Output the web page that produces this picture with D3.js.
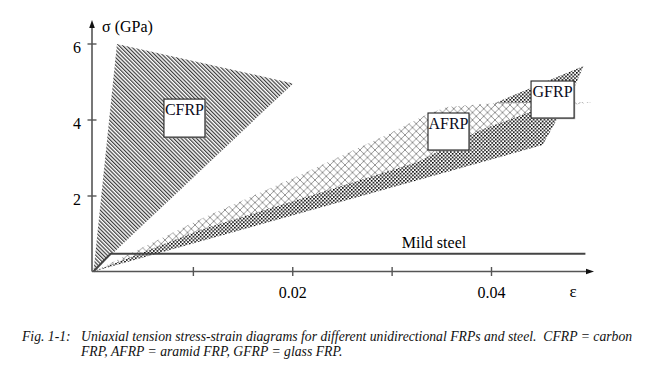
<!DOCTYPE html>
<html>
<head>
<meta charset="utf-8">
<script src="https://cdn.jsdelivr.net/npm/d3@7"></script>
<style>
  html, body { margin: 0; padding: 0; background: #fff; }
  svg { display: block; }
</style>
</head>
<body>
<svg id="chart" width="666" height="372"></svg>
<script>
// ---- data (strain ε, stress σ in GPa) ----
const cfrpRegion = [[0, 0], [0.00236, 5.99], [0.0201, 4.95]];
const gfrpRegion = [[0, 0], [0.0452, 3.33], [0.0466, 3.99], [0.0485, 4.91], [0.0493, 5.41]];
const afrpUpper = [[0, 0], [0.01076, 1.38], [0.02078, 2.54], [0.02984, 3.64], [0.03356, 4.14], [0.03557, 4.33], [0.0399, 4.42], [0.0503, 4.46]];
const afrpLower = [[0.0459, 4.30], [0.0439, 4.20], [0.0389, 3.72], [0.0326, 2.88], [0.0208, 1.91], [0.0107, 1.09], [0, 0]];
const steelCurve = [[0, 0], [0.00173, 0.47], [0.0495, 0.47]];

const yTicks = [2, 4, 6];
const yTickLabels = ["2", "4", "6"];
const xTicks = [0.01, 0.02, 0.03, 0.04];
const xTickLabels = ["", "0.02", "", "0.04"];

const materialNames = ["CFRP", "AFRP", "GFRP"];
const steelName = "Mild steel";
const yAxisTitle = "σ (GPa)";
const xAxisTitle = "ε";
const captionHead = "Fig. 1-1:";
const captionLines = ["Uniaxial tension stress-strain diagrams for different unidirectional FRPs and steel.  CFRP = carbon",
                      "FRP, AFRP = aramid FRP, GFRP = glass FRP."];

// ---- drawing ----
const svg = d3.select("#chart");
const serif = "'Liberation Serif', 'Times New Roman', serif";

const x = d3.scaleLinear().domain([0, 0.04]).range([93.5, 491]);
const y = d3.scaleLinear().domain([0, 6]).range([271.5, 43.5]);

const defs = svg.append("defs");

// diagonal hatch for CFRP
const hatch = defs.append("pattern").attr("id", "hatch")
  .attr("patternUnits", "userSpaceOnUse").attr("width", 2.7).attr("height", 10)
  .attr("patternTransform", "rotate(-45)");
hatch.append("rect").attr("width", 2.7).attr("height", 10).attr("fill", "#fff");
hatch.append("rect").attr("width", 1.2).attr("height", 10).attr("fill", "#3a3a3a");

// dots for GFRP
const dots = defs.append("pattern").attr("id", "dots")
  .attr("patternUnits", "userSpaceOnUse").attr("width", 3.6).attr("height", 3.6);
dots.append("rect").attr("width", 3.6).attr("height", 3.6).attr("fill", "#fff");
dots.append("rect").attr("x", 0).attr("y", 0).attr("width", 1.6).attr("height", 1.6).attr("fill", "#000");
dots.append("rect").attr("x", 1.8).attr("y", 1.8).attr("width", 1.6).attr("height", 1.6).attr("fill", "#000");

// cross-hatch for AFRP
const cs = 7.5;
const cross = defs.append("pattern").attr("id", "cross")
  .attr("patternUnits", "userSpaceOnUse").attr("width", cs).attr("height", cs);
cross.append("rect").attr("width", cs).attr("height", cs).attr("fill", "#fff");
cross.append("path").attr("d", `M0,0L${cs},${cs}M${cs},0L0,${cs}`)
  .attr("stroke", "#7a7a7a").attr("stroke-width", 0.8).attr("fill", "none");

const line = d3.line().x(d => x(d[0])).y(d => y(d[1]));

svg.append("path").attr("d", line(cfrpRegion) + "Z").attr("fill", "url(#hatch)");
svg.append("path").attr("d", line(gfrpRegion) + "Z").attr("fill", "url(#dots)");
svg.append("path").attr("d", line(afrpUpper.concat(afrpLower)) + "Z").attr("fill", "url(#cross)");

// mild steel
svg.append("path").attr("d", line(steelCurve)).attr("fill", "none")
  .attr("stroke", "#444").attr("stroke-width", 2);

// axes
const x0 = x(0) - 1.5, yb = y(0);
const axisColor = "#555";
svg.append("line").attr("x1", x0).attr("x2", x0).attr("y1", yb).attr("y2", 26)
  .attr("stroke", axisColor).attr("stroke-width", 1.6);
svg.append("path").attr("d", `M${x0},20L${x0 - 2.8},28L${x0 + 2.8},28Z`).attr("fill", "#111");
svg.append("line").attr("x1", x0).attr("x2", 588).attr("y1", yb).attr("y2", yb)
  .attr("stroke", axisColor).attr("stroke-width", 1.6);
svg.append("path").attr("d", `M594,${yb}L586,${yb - 2.8}L586,${yb + 2.8}Z`).attr("fill", "#111");

const yAxis = d3.axisLeft(y).tickValues(yTicks).tickSize(4.5)
  .tickFormat((d, i) => yTickLabels[i]);
const gy = svg.append("g").attr("transform", `translate(${x0},0)`).call(yAxis);
gy.select(".domain").remove();
gy.selectAll(".tick line").attr("x2", -4.5).attr("x1", 4.5).attr("stroke", axisColor).attr("stroke-width", 1.4);
gy.selectAll(".tick text").attr("x", -11).attr("dy", null).attr("y", 8.5)
  .attr("font-family", serif).attr("font-size", 16).attr("fill", "#000").attr("text-anchor", "end");
gy.attr("font-family", null).attr("font-size", null);

const xAxis = d3.axisBottom(x).tickValues(xTicks).tickSize(4.5)
  .tickFormat((d, i) => xTickLabels[i]);
const gx = svg.append("g").attr("transform", `translate(0,${yb})`).call(xAxis);
gx.select(".domain").remove();
gx.selectAll(".tick line").attr("y1", -4.5).attr("y2", 4.5).attr("stroke", axisColor).attr("stroke-width", 1.4);
gx.selectAll(".tick text").attr("dy", null).attr("y", 26)
  .attr("font-family", serif).attr("font-size", 16).attr("fill", "#000");
gx.attr("font-family", null).attr("font-size", null);

svg.append("text").attr("x", 102).attr("y", 31.5).attr("font-family", serif).attr("font-size", 16)
  .text(yAxisTitle);
svg.append("text").attr("x", 573).attr("y", 297).attr("text-anchor", "middle")
  .attr("font-family", serif).attr("font-size", 17).text(xAxisTitle);

// label boxes (anchored in data units: top-left corner)
const boxes = [
  {name: materialNames[0], e: 0.00709, s: 4.537, w: 41, h: 38},
  {name: materialNames[1], e: 0.03366, s: 4.171, w: 41, h: 37},
  {name: materialNames[2], e: 0.04403, s: 5.013, w: 43, h: 37}
];
boxes.forEach(b => {
  const bx = x(b.e), by = y(b.s);
  svg.append("rect").attr("x", bx + 1.2).attr("y", by + 1.2).attr("width", b.w).attr("height", b.h)
    .attr("fill", "#aaa");
  svg.append("rect").attr("x", bx).attr("y", by).attr("width", b.w).attr("height", b.h)
    .attr("fill", "#fff").attr("stroke", "#222").attr("stroke-width", 1.1);
  svg.append("text").attr("x", bx + b.w / 2).attr("y", by + 15.5).attr("text-anchor", "middle")
    .attr("font-family", serif).attr("font-size", 16).attr("fill", "#0a0a20").text(b.name);
});

svg.append("text").attr("x", x(0.03426)).attr("y", y(0.61)).attr("text-anchor", "middle")
  .attr("font-family", serif).attr("font-size", 16).text(steelName);

// caption
const cap = svg.append("g").attr("font-family", serif).attr("font-style", "italic").attr("font-size", 13.7).attr("fill", "#111");
cap.append("text").attr("x", 22).attr("y", 341).text(captionHead);
cap.append("text").attr("x", 81).attr("y", 341).attr("xml:space", "preserve").style("white-space", "pre").text(captionLines[0]);
cap.append("text").attr("x", 81).attr("y", 356).text(captionLines[1]);
</script>
</body>
</html>
